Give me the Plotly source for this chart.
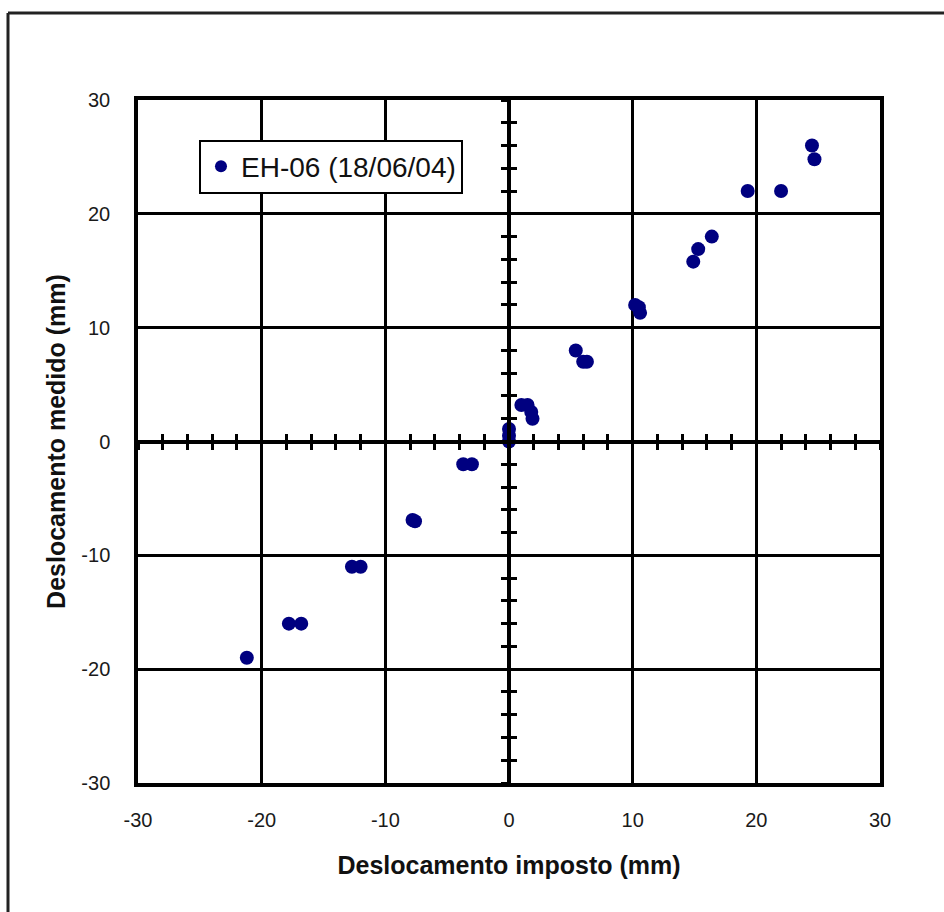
import plotly.graph_objects as go

# Data
imposto = [-21.2, -17.8, -16.8, -12.7, -12.0, -7.8, -7.6, -3.7, -3.0,
           0.0, 0.0, 0.0, 1.0, 1.5, 1.8, 1.9, 5.4, 6.0, 6.3,
           10.2, 10.5, 10.6, 14.9, 15.3, 16.4, 19.3, 22.0, 24.5, 24.7]
medido = [-19.0, -16.0, -16.0, -11.0, -11.0, -6.9, -7.0, -2.0, -2.0,
          0.0, 0.5, 1.1, 3.2, 3.2, 2.6, 2.0, 8.0, 7.0, 7.0,
          12.0, 11.8, 11.3, 15.8, 16.9, 18.0, 22.0, 22.0, 26.0, 24.8]
series_name = "EH-06 (18/06/04)"
major_ticks = [-30, -20, -10, 0, 10, 20, 30]
tick_labels = ["-30", "-20", "-10", "0", "10", "20", "30"]
axis_range = [-30, 30]

FONT = "Liberation Sans, Arial, sans-serif"

fig = go.Figure()
fig.add_trace(go.Scatter(
    x=imposto, y=medido, mode="markers", name=series_name,
    marker=dict(color="#000080", size=14, line=dict(width=0)),
))
# helper empty traces so the zero-crossing axes are rendered
fig.add_trace(go.Scatter(x=[None], y=[None], xaxis="x2", yaxis="y",
                         showlegend=False, hoverinfo="skip"))
fig.add_trace(go.Scatter(x=[None], y=[None], xaxis="x3", yaxis="y",
                         showlegend=False, hoverinfo="skip"))
fig.add_trace(go.Scatter(x=[None], y=[None], xaxis="x", yaxis="y2",
                         showlegend=False, hoverinfo="skip"))
fig.add_trace(go.Scatter(x=[None], y=[None], xaxis="x", yaxis="y3",
                         showlegend=False, hoverinfo="skip"))

main_axis = dict(
    range=axis_range, tickvals=major_ticks, ticktext=tick_labels,
    showgrid=True, gridcolor="black", gridwidth=2.5, zeroline=False,
    showline=True, mirror=True, linecolor="black", linewidth=3.5,
    ticks="", tickfont=dict(family=FONT, size=20, color="#1a1a1a"),
)
zero_axis = dict(
    range=axis_range, anchor="free", position=0.5, showline=True,
    linecolor="black", linewidth=4, tick0=0, dtick=2, ticklen=6,
    tickwidth=3, tickcolor="black", showticklabels=False,
    showgrid=False, zeroline=False,
)

fig.update_layout(
    width=944, height=912,
    paper_bgcolor="white", plot_bgcolor="white",
    margin=dict(l=138, r=64, t=100, b=129),
    font=dict(family=FONT),
    xaxis=dict(**main_axis,
               ticklabelstandoff=16,
               title=dict(text="<b>Deslocamento imposto (mm)</b>",
                          font=dict(family=FONT, size=25, color="#111"),
                          standoff=28)),
    yaxis=dict(**main_axis,
               ticklabelstandoff=20,
               title=dict(text="<b>Deslocamento medido (mm)</b>",
                          font=dict(family=FONT, size=25, color="#111"),
                          standoff=10)),
    xaxis2=dict(**zero_axis, overlaying="x", ticks="outside", side="bottom"),
    xaxis3=dict(**zero_axis, overlaying="x", ticks="inside", side="bottom"),
    yaxis2=dict(**zero_axis, overlaying="y", ticks="outside", side="left"),
    yaxis3=dict(**zero_axis, overlaying="y", ticks="inside", side="left"),
    legend=dict(x=0.0822, y=0.942, xanchor="left", yanchor="top",
                bgcolor="white", bordercolor="black", borderwidth=2,
                font=dict(family=FONT, size=28, color="#111"),
                itemsizing="constant"),
    showlegend=True,
)

# outer frame (top and left edges visible in the reference)
fig.add_shape(type="line", xref="paper", yref="paper",
              x0=-0.1752, x1=1.1, y0=1.1274, y1=1.1274,
              line=dict(color="#222", width=3))
fig.add_shape(type="line", xref="paper", yref="paper",
              x0=-0.1752, x1=-0.1752, y0=-0.2, y1=1.1274,
              line=dict(color="#222", width=3))

fig.write_html("out.html",
               config={"displayModeBar": False},
               post_script="document.body.style.margin='0';document.body.style.overflow='hidden';")
